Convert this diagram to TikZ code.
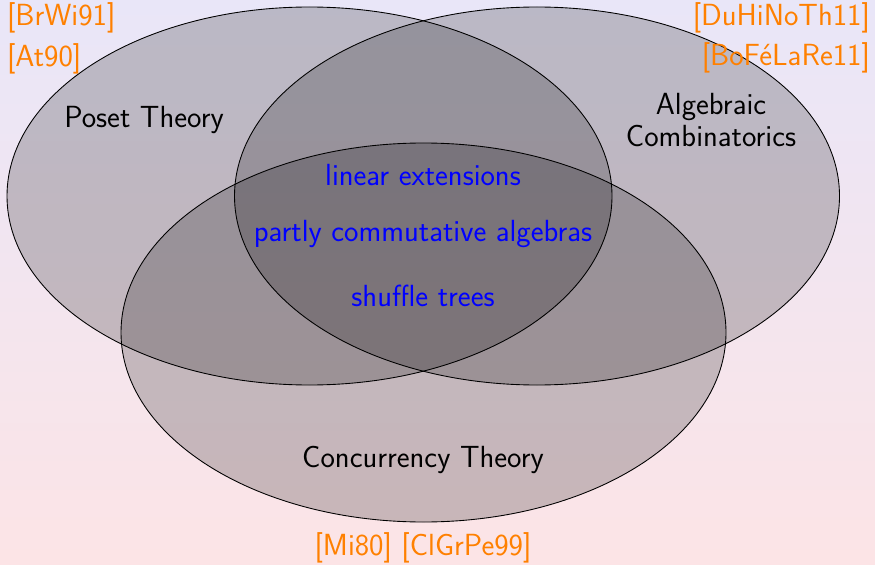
\documentclass[tikz,border=0pt]{standalone}
\usepackage{tikz}
\renewcommand{\familydefault}{\sfdefault}
\definecolor{bgtop}{RGB}{233,230,248}
\definecolor{bgbottom}{RGB}{252,228,230}
\definecolor{citeorange}{RGB}{255,128,0}
\tikzset{
  field/.style={draw=black,line width=.5pt,fill=black,fill opacity=.2},
  cite/.style={text=citeorange,inner sep=1pt},
  topic/.style={text=blue,inner sep=1pt},
  area/.style={text=black,inner sep=1pt,align=center}
}

\begin{document}
\begin{tikzpicture}[font=\fontsize{17.4}{18.2}\selectfont]
\shade[top color=bgtop,bottom color=bgbottom] (0,0) rectangle (17.5,11.28);
\useasboundingbox (0,0) rectangle (17.5,11.28);
\path[field] (6.19,7.36) ellipse (6.05 and 3.78);
\path[field] (10.74,7.36) ellipse (6.05 and 3.78);
\path[field] (8.47,4.63) ellipse (6.05 and 3.79);
\node[area] (poset) at (2.88,8.88) {Poset Theory};
\node[area] (algebra) at (14.22,8.88) {Algebraic\\Combinatorics};
\node[area] (concur) at (8.46,2.08) {Concurrency Theory};
\node[topic] (linext) at (8.46,7.78) {linear extensions};
\node[topic] (pca) at (8.46,6.6) {partly commutative algebras};
\node[topic] (shuffle) at (8.46,5.36) {shuffle trees};
\node[cite,anchor=west] (brwi) at (.1,10.92) {[BrWi91]};
\node[cite,anchor=west] (at) at (.1,10.1) {[At90]};
\node[cite,anchor=east] (duhi) at (17.44,10.92) {[DuHiNoTh11]};
\node[cite,anchor=east] (bofe) at (17.44,10.12) {[BoFéLaRe11]};
\node[cite] (mi) at (8.46,.32) {[Mi80] [ClGrPe99]};
\end{tikzpicture}
\end{document}
